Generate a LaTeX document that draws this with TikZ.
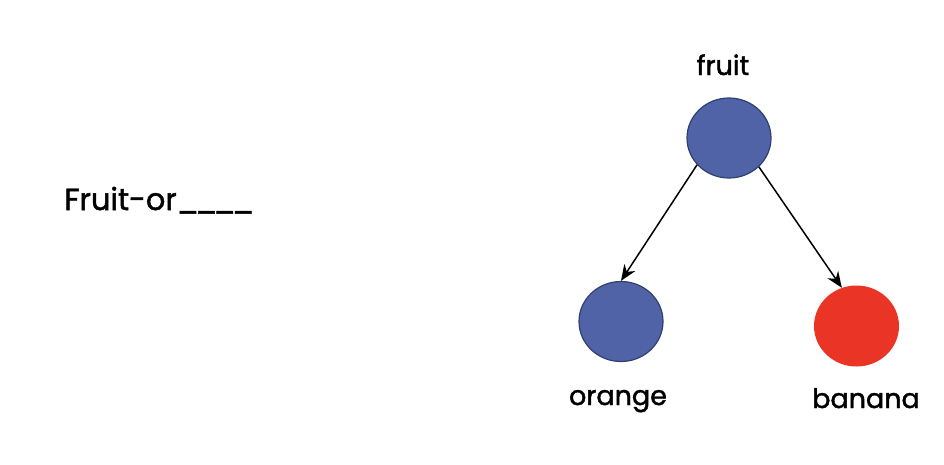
\documentclass[tikz,border=0pt]{standalone}
\usepackage{fontspec}
\setmainfont{Poppins}[FakeBold=1.6,AutoFakeBold=1.6]
\usetikzlibrary{arrows.meta,shapes.geometric}
\definecolor{nodeblue}{RGB}{79,99,166}
\definecolor{nodeborder}{RGB}{47,64,112}
\definecolor{nodered}{RGB}{234,53,38}
\tikzset{
  bluenode/.style={ellipse, fill=nodeblue, draw=nodeborder, line width=1.2pt, minimum width=84pt, minimum height=80pt, inner sep=0pt},
  rednode/.style={ellipse, fill=nodered, minimum width=85pt, minimum height=81pt, inner sep=0pt},
  lbl/.style={anchor=base, inner sep=0pt, font=\fontsize{27}{32}\selectfont\bfseries},
  arr/.style={line width=1.5pt, -{Stealth[length=16pt,width=13pt]}}
}
\begin{document}
\begin{tikzpicture}[x=1pt,y=-1pt]
\useasboundingbox (0,0) rectangle (944,464);
\node[bluenode] (fruit) at (729,138) {};
\node[bluenode] (orange) at (621,321.5) {};
\node[rednode] (banana) at (856.5,326) {};
\node[lbl] (lfruit) at (723,75) {fruit};
\node[lbl] (lorange) at (618,405) {orange};
\node[lbl] (lbanana) at (866,408) {banana};
\node[anchor=base west, inner sep=0pt, font=\fontsize{30.5}{36}\selectfont\bfseries] (title) at (64,210) {Fruit-or\_\kern-4pt\_\kern-4pt\_\kern-4pt\_};
\draw[arr] (fruit.220) -- (orange.north);
\draw[arr] (fruit.316) -- (banana.111);
\end{tikzpicture}
\end{document}
